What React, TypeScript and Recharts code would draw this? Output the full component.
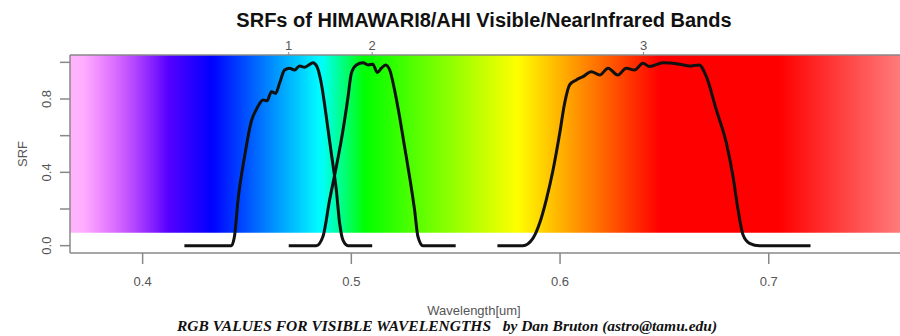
import React from 'react';
import { ComposedChart, Line, XAxis, YAxis, ReferenceArea } from 'recharts';

// ---- data ----
const band1Wl = [0.42, 0.4425, 0.444, 0.4457, 0.4489, 0.4521, 0.4548, 0.4577, 0.4596, 0.4617, 0.4637, 0.4656, 0.468, 0.4704, 0.4728, 0.4752, 0.4776, 0.4797, 0.4816, 0.4835, 0.4856, 0.488, 0.4904, 0.4928, 0.4944, 0.496, 0.4984, 0.51];
const band1Srf = [0, 0, 0.05, 0.25, 0.49, 0.68, 0.75, 0.795, 0.79, 0.84, 0.83, 0.886, 0.958, 0.968, 0.958, 0.98, 0.973, 0.986, 0.998, 0.977, 0.886, 0.704, 0.504, 0.304, 0.122, 0.03, 0, 0];

const band2Wl = [0.47, 0.4832, 0.4864, 0.4896, 0.4928, 0.496, 0.4984, 0.5, 0.5024, 0.5056, 0.508, 0.5103, 0.5124, 0.5144, 0.5164, 0.5184, 0.5207, 0.5231, 0.5255, 0.5279, 0.5303, 0.5319, 0.5343, 0.55];
const band2Srf = [0, 0, 0.05, 0.25, 0.43, 0.63, 0.81, 0.94, 0.986, 0.998, 0.986, 0.99, 0.945, 0.968, 0.986, 0.958, 0.85, 0.704, 0.54, 0.376, 0.195, 0.05, 0, 0];

const band3Wl = [0.57, 0.5822, 0.587, 0.5902, 0.5934, 0.5966, 0.5998, 0.6022, 0.6046, 0.6078, 0.611, 0.615, 0.619, 0.623, 0.6277, 0.6317, 0.6357, 0.6397, 0.6429, 0.6493, 0.6573, 0.6621, 0.6666, 0.6701, 0.6749, 0.6797, 0.6829, 0.6853, 0.6877, 0.6908, 0.6956, 0.72];
const band3Srf = [0, 0, 0.04, 0.122, 0.25, 0.41, 0.61, 0.777, 0.877, 0.904, 0.922, 0.949, 0.931, 0.968, 0.931, 0.968, 0.958, 0.995, 0.977, 0.998, 0.99, 0.98, 0.986, 0.922, 0.74, 0.559, 0.376, 0.195, 0.058, 0.013, 0, 0];

const xTicks = [0.4, 0.5, 0.6, 0.7];
const yTicks = [0, 0.2, 0.4, 0.6, 0.8, 1.0];
const yLabelled = [0, 0.4, 0.8];
const bandCenters = [0.47, 0.51, 0.64];
const bandNames = ['1', '2', '3'];

const X_MIN = 0.3652;
const X_MAX = 0.7648;
const Y_MIN = -0.04;
const Y_MAX = 1.04;
const SPECTRUM_BOTTOM = 0.07;
const SPECTRUM_NM_START = 375;
const SPECTRUM_NM_END = 757;

const toRows = (wl: number[], srf: number[]) => wl.map((w, i) => ({ wl: w, srf: srf[i] }));
const band1 = toRows(band1Wl, band1Srf);
const band2 = toRows(band2Wl, band2Srf);
const band3 = toRows(band3Wl, band3Srf);

// Dan Bruton's wavelength -> RGB, blended with white by intensity factor
function bruton(nmIn: number): string {
  const nm = Math.max(380, Math.min(780, nmIn));
  let r = 0, g = 0, b = 0;
  if (nm < 440) { r = (440 - nm) / 60; b = 1; }
  else if (nm < 490) { g = (nm - 440) / 50; b = 1; }
  else if (nm < 510) { g = 1; b = (510 - nm) / 20; }
  else if (nm < 580) { r = (nm - 510) / 70; g = 1; }
  else if (nm < 645) { r = 1; g = (645 - nm) / 65; }
  else { r = 1; }
  let f = 1;
  if (nm < 420) f = 0.3 + 0.7 * (nm - 380) / 40;
  else if (nm > 700) f = 0.3 + 0.7 * (780 - nm) / 80;
  const ch = (c: number) => Math.round(255 * (c * f + (1 - f)));
  return `rgb(${ch(r)},${ch(g)},${ch(b)})`;
}

const stops: { off: number; color: string }[] = [];
for (let nm = SPECTRUM_NM_START; nm <= SPECTRUM_NM_END; nm += 2) {
  stops.push({ off: (nm - SPECTRUM_NM_START) / (SPECTRUM_NM_END - SPECTRUM_NM_START), color: bruton(nm) });
}

const GRAY = '#888';
const TXT = '#555';
const SANS = 'Liberation Sans, Arial, sans-serif';

const YTick = (props: any) => {
  const { x, y, payload } = props;
  const v = payload.value;
  if (!yLabelled.some((t) => Math.abs(t - v) < 1e-6)) return <g />;
  return (
    <text x={x} y={y} transform={`rotate(-90, ${x}, ${y})`} textAnchor="middle" dy="0.35em"
      fill={TXT} fontSize={13} fontFamily={SANS}>
      {v.toFixed(1)}
    </text>
  );
};

const TopTick = (props: any) => {
  const { x, y, payload } = props;
  const v = payload.value;
  let idx = 0;
  bandCenters.forEach((c, i) => { if (Math.abs(c - v) < Math.abs(bandCenters[idx] - v)) idx = i; });
  return (
    <text x={x} y={y} textAnchor="middle" fill={TXT} fontSize={13} fontFamily={SANS}>
      {bandNames[idx]}
    </text>
  );
};

export default function App() {
  return (
    <div style={{ position: 'absolute', left: 0, top: 0, width: 900, height: 336, overflow: 'hidden', background: '#fff' }}>
      <ComposedChart width={910} height={336} margin={{ top: 35, right: 6, bottom: 53, left: 0 }}>
        <defs>
          <linearGradient id="spectrum" x1="0" y1="0" x2="1" y2="0">
            {stops.map((s, i) => (
              <stop key={i} offset={s.off} stopColor={s.color} />
            ))}
          </linearGradient>
        </defs>
        <XAxis xAxisId="b" dataKey="wl" type="number" domain={[X_MIN, X_MAX]} allowDataOverflow
          ticks={xTicks} tickFormatter={(v: number) => v.toFixed(1)} height={30} interval={0}
          tickSize={11} tickMargin={13} axisLine={{ stroke: GRAY, strokeWidth: 1.5 }}
          tickLine={{ stroke: GRAY, strokeWidth: 1.5 }}
          tick={{ fill: TXT, fontSize: 13, fontFamily: SANS }} />
        <XAxis xAxisId="t" orientation="top" dataKey="wl" type="number" domain={[X_MIN, X_MAX]} allowDataOverflow
          ticks={bandCenters} interval={0} height={20}
          tickSize={3} tickMargin={2} axisLine={{ stroke: GRAY, strokeWidth: 1.5 }}
          tickLine={{ stroke: GRAY, strokeWidth: 1 }}
          tick={<TopTick />} />
        <YAxis type="number" domain={[Y_MIN, Y_MAX]} allowDataOverflow ticks={yTicks} width={70}
          tickSize={10} tickMargin={14} axisLine={{ stroke: GRAY, strokeWidth: 1.5 }}
          tickLine={{ stroke: GRAY, strokeWidth: 1.5 }} tick={<YTick />} />
        <ReferenceArea xAxisId="b" x1={X_MIN} x2={X_MAX} y1={SPECTRUM_BOTTOM} y2={Y_MAX}
          fill="url(#spectrum)" fillOpacity={1} stroke="none" />
        <Line xAxisId="b" data={band1} dataKey="srf" type="monotone" stroke="#111" strokeWidth={3}
          dot={false} isAnimationActive={false} />
        <Line xAxisId="b" data={band2} dataKey="srf" type="monotone" stroke="#111" strokeWidth={3}
          dot={false} isAnimationActive={false} />
        <Line xAxisId="b" data={band3} dataKey="srf" type="monotone" stroke="#111" strokeWidth={3}
          dot={false} isAnimationActive={false} />
        <Line xAxisId="t" data={band1} dataKey="srf" type="monotone" stroke="none" strokeWidth={0}
          dot={false} legendType="none" isAnimationActive={false} />
      </ComposedChart>
      <div style={{ position: 'absolute', left: 484, top: 20, transform: 'translate(-50%,-50%)', whiteSpace: 'nowrap',
        fontFamily: SANS, fontWeight: 'bold', fontSize: 20, color: '#111' }}>
        SRFs of HIMAWARI8/AHI Visible/NearInfrared Bands
      </div>
      <div style={{ position: 'absolute', left: 22, top: 154, transform: 'translate(-50%,-50%) rotate(-90deg)', whiteSpace: 'nowrap',
        fontFamily: SANS, fontSize: 13, color: TXT }}>
        SRF
      </div>
      <div style={{ position: 'absolute', left: 474, top: 310, transform: 'translate(-50%,-50%)', whiteSpace: 'nowrap',
        fontFamily: SANS, fontSize: 13, color: TXT }}>
        Wavelength[um]
      </div>
      <div style={{ position: 'absolute', left: 447, top: 326, transform: 'translate(-50%,-50%)', whiteSpace: 'pre',
        fontFamily: 'Liberation Serif, Times New Roman, serif', fontWeight: 'bold', fontStyle: 'italic', fontSize: 15.5, color: '#111' }}>
        {'RGB VALUES FOR VISIBLE WAVELENGTHS   by Dan Bruton (astro@tamu.edu)'}
      </div>
    </div>
  );
}
